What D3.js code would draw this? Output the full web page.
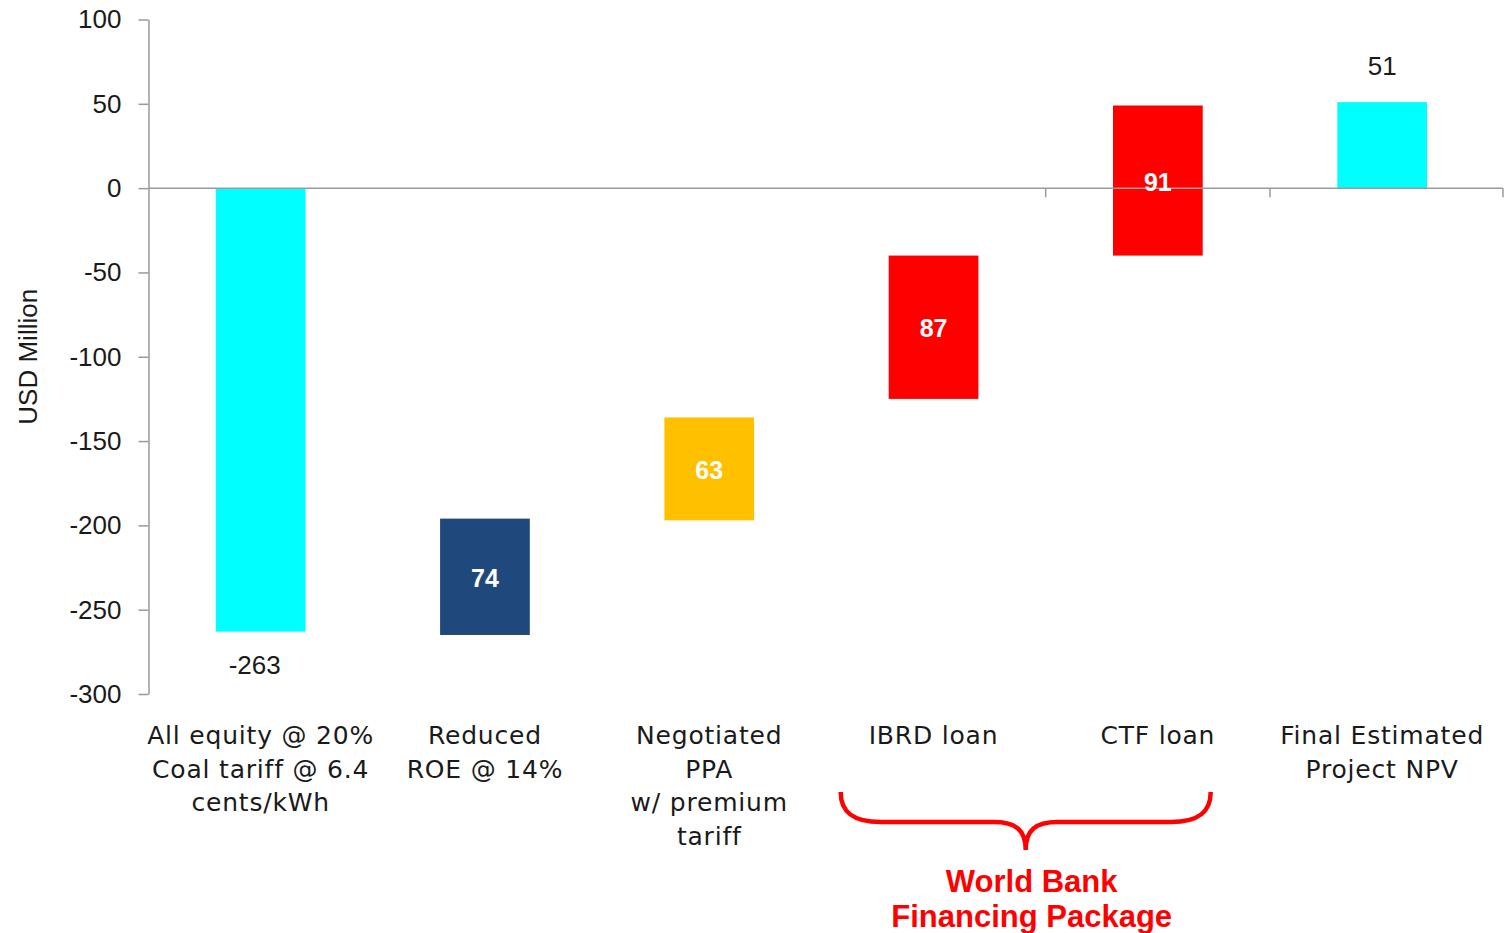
<!DOCTYPE html>
<html>
<head>
<meta charset="utf-8">
<script src="https://cdn.jsdelivr.net/npm/d3@7"></script>
<style>
  html, body { margin: 0; padding: 0; background: #fff; }
  svg { display: block; }
  text { font-family: "Liberation Sans", Arial, sans-serif; }
</style>
</head>
<body>
<svg id="chart" width="1505" height="933"></svg>
<script>
(function () {
// ---- data ----
const categories = [
  "All equity @ 20%|Coal tariff @ 6.4|cents/kWh",
  "Reduced|ROE @ 14%",
  "Negotiated|PPA|w/ premium|tariff",
  "IBRD loan",
  "CTF loan",
  "Final Estimated|Project NPV"
];
const barLow  = [-263, -265, -197, -125, -40, 0];
const barHigh = [0, -196, -136, -40, 49, 51];
const valueLabels = ["-263", "74", "63", "87", "91", "51"];
const yTicks = [100, 50, 0, -50, -100, -150, -200, -250, -300];
const bracketTitle = ["World Bank", "Financing Package"];
const bracketCats = [3, 4];
// ---- styles ----
const barColors = ["#00FFFF", "#1F497D", "#FFC000", "#FF0000", "#FF0000", "#00FFFF"];
const labelInside = [false, true, true, true, true, false];

const svg = d3.select("#chart");
const x = d3.scaleBand()
  .domain(categories)
  .range([148.5, 1494.3])
  .paddingInner(0.6)
  .paddingOuter(0.3);
const y = d3.scaleLinear().domain([-300, 100]).range([694, 19.5]);

// y axis
const yAxis = d3.axisLeft(y)
  .tickValues(yTicks)
  .tickSize(10)
  .tickSizeOuter(0)
  .tickPadding(17)
  .tickFormat(d => String(d));
const gy = svg.append("g").attr("transform", "translate(148.5,0)").call(yAxis);
gy.selectAll("path.domain").attr("stroke", "#9a9a9a").attr("stroke-width", 1.5);
gy.selectAll(".tick line").attr("stroke", "#9a9a9a").attr("stroke-width", 1.5);
gy.selectAll(".tick text")
  .attr("font-size", 26)
  .attr("fill", "#1a1a1a")
  .style("font-family", "'Liberation Sans', Arial, sans-serif");

// axis title
svg.append("text")
  .attr("transform", `translate(37,${(y(-300) + y(100)) / 2})  rotate(-90)`)
  .attr("text-anchor", "middle")
  .attr("font-size", 26)
  .attr("fill", "#1a1a1a")
  .text("USD Million");

// bars
svg.selectAll("rect.bar")
  .data(categories)
  .join("rect")
  .attr("class", "bar")
  .attr("x", d => x(d))
  .attr("width", x.bandwidth())
  .attr("y", (d, i) => y(barHigh[i]))
  .attr("height", (d, i) => y(barLow[i]) - y(barHigh[i]))
  .attr("fill", (d, i) => barColors[i]);

// zero line
svg.append("line")
  .attr("x1", 148.5).attr("x2", 1503)
  .attr("y1", y(0)).attr("y2", y(0))
  .attr("stroke", "#9a9a9a").attr("stroke-width", 1.5);
[3, 4, 5].forEach(i => {
  const bx = i === 5 ? 1503 : x(categories[i]) + x.bandwidth() + x.step() * 0.3;
  svg.append("line")
    .attr("x1", bx).attr("x2", bx)
    .attr("y1", y(0)).attr("y2", y(0) + 9)
    .attr("stroke", "#9a9a9a").attr("stroke-width", 1.5);
});

// value labels
categories.forEach((c, i) => {
  const cx = x(c) + x.bandwidth() / 2;
  if (labelInside[i]) {
    svg.append("text")
      .attr("x", cx)
      .attr("y", (y(barLow[i]) + y(barHigh[i])) / 2 + 10)
      .attr("text-anchor", "middle")
      .attr("font-size", 25)
      .attr("font-weight", "bold")
      .attr("fill", "#ffffff")
      .text(valueLabels[i]);
  } else {
    const v = barLow[i] < 0 ? barLow[i] : barHigh[i];
    svg.append("text")
      .attr("x", cx - (v < 0 ? 6 : 0))
      .attr("y", v < 0 ? y(v) + 42 : y(v) - 27)
      .attr("text-anchor", "middle")
      .attr("font-size", 26)
      .attr("fill", "#1a1a1a")
      .text(valueLabels[i]);
  }
});

// category labels
categories.forEach((c, i) => {
  const cx = x(c) + x.bandwidth() / 2;
  const t = svg.append("text")
    .attr("text-anchor", "middle")
    .attr("font-size", 25)
    .attr("letter-spacing", 0.8)
    .style("font-family", "'DejaVu Sans', sans-serif")
    .attr("fill", "#1a1a1a");
  c.split("|").forEach((line, j) => {
    t.append("tspan").attr("x", cx).attr("y", 744 + j * 33.5).text(line);
  });
});

// bracket
const bl = x(categories[bracketCats[0]]) - 48;
const br = x(categories[bracketCats[1]]) + x.bandwidth() + 8;
const bm = (bl + br) / 2;
const bTop = 792, bMid = 822, bTip = 850;
svg.append("path")
  .attr("d", `M${bl},${bTop} C${bl},${bMid - 10} ${bl + 12},${bMid} ${bl + 40},${bMid}
              L${bm - 32},${bMid} C${bm - 10},${bMid} ${bm},${bMid + 8} ${bm},${bTip}
              C${bm},${bMid + 8} ${bm + 10},${bMid} ${bm + 32},${bMid}
              L${br - 40},${bMid} C${br - 12},${bMid} ${br},${bMid - 10} ${br},${bTop}`)
  .attr("fill", "none")
  .attr("stroke", "#FF0000")
  .attr("stroke-width", 4.5);
bracketTitle.forEach((line, j) => {
  svg.append("text")
    .attr("x", bm + 6)
    .attr("y", 892 + j * 35)
    .attr("text-anchor", "middle")
    .attr("font-size", 31)
    .attr("font-weight", "bold")
    .attr("fill", "#FF0000")
    .text(line);
});
})();
</script>
</body>
</html>
